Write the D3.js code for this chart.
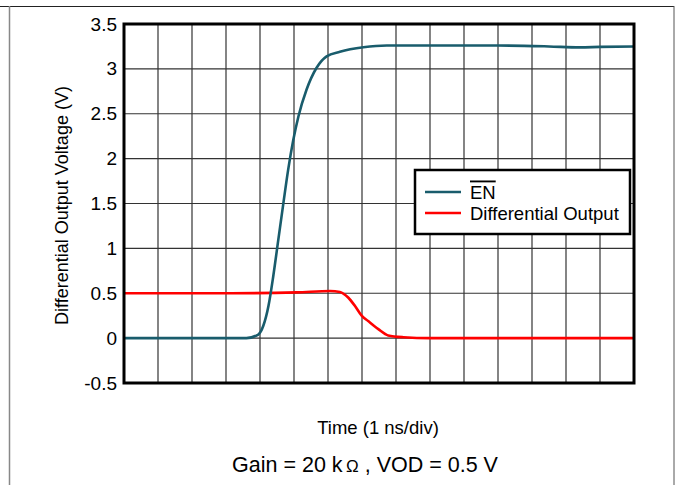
<!DOCTYPE html>
<html>
<head>
<meta charset="utf-8">
<script src="https://cdn.jsdelivr.net/npm/d3@7"></script>
<style>
  body { margin: 0; background: #fff; }
  text { font-family: "Liberation Sans", Arial, sans-serif; fill: #000; }
</style>
</head>
<body>
<svg id="chart" width="676" height="485"></svg>
<script>
// time in divisions (1 ns/div), voltage in V
var enTime = [0, 3.6, 3.95, 4.1, 4.25, 4.39, 4.54, 4.69, 4.83, 4.98, 5.13, 5.37, 5.66, 5.96, 6.35, 7.04, 7.73, 9.0, 11.0, 12.5, 13.4, 14.0, 15.0];
var enVolt = [0, 0, 0.04, 0.14, 0.36, 0.69, 1.10, 1.51, 1.88, 2.21, 2.47, 2.77, 3.01, 3.14, 3.19, 3.24, 3.26, 3.26, 3.26, 3.25, 3.24, 3.245, 3.25];

var diffTime = [0, 3.15, 5.08, 6.06, 6.35, 6.6, 6.79, 6.99, 7.18, 7.48, 7.77, 8.22, 9.0, 11.0, 15.0];
var diffVolt = [0.5, 0.5, 0.51, 0.525, 0.515, 0.45, 0.36, 0.25, 0.19, 0.10, 0.03, 0.01, 0.0, 0.0, 0.0];

var yTicks = [-0.5, 0, 0.5, 1, 1.5, 2, 2.5, 3, 3.5];
var xTicks = d3.range(0, 16);

var seriesNames = ["EN", "Differential Output"];
var seriesColors = ["#195c6c", "#ff0000"];

var svg = d3.select("#chart");
var margin = {top: 24, right: 42, bottom: 102, left: 124};
var width = 676 - margin.left - margin.right,
    height = 485 - margin.top - margin.bottom;

// outer frame
svg.append("line").attr("x1", 0).attr("x2", 674).attr("y1", 6.5).attr("y2", 6.5)
    .attr("stroke", "#222").attr("stroke-width", 1.2);
svg.append("line").attr("x1", 9.5).attr("x2", 9.5).attr("y1", 6).attr("y2", 485)
    .attr("stroke", "#888").attr("stroke-width", 1.5);
svg.append("line").attr("x1", 674).attr("x2", 674).attr("y1", 6).attr("y2", 485)
    .attr("stroke", "#555").attr("stroke-width", 1);

var x = d3.scaleLinear().domain([0, 15]).range([0, width]);
var y = d3.scaleLinear().domain([-0.5, 3.5]).range([height, 0]);

var g = svg.append("g")
    .attr("transform", "translate(" + margin.left + "," + margin.top + ")");

// grid
g.append("g").selectAll("line").data(xTicks.slice(1, -1)).enter().append("line")
    .attr("x1", function(d) { return x(d); }).attr("x2", function(d) { return x(d); })
    .attr("y1", 0).attr("y2", height)
    .attr("stroke", "#333").attr("stroke-width", 1.2);
g.append("g").selectAll("line").data(yTicks.slice(1, -1)).enter().append("line")
    .attr("y1", function(d) { return y(d); }).attr("y2", function(d) { return y(d); })
    .attr("x1", 0).attr("x2", width)
    .attr("stroke", "#333").attr("stroke-width", 1.2);

// y axis labels (plain hyphen for minus, like the original)
var yAxis = d3.axisLeft(y).tickValues(yTicks).tickSize(0).tickPadding(7)
    .tickFormat(function(d) { return String(d); });
g.append("g").call(yAxis)
    .call(function(a) { a.select(".domain").remove(); })
    .selectAll("text")
    .style("font-size", "19px")
    .style("font-family", "Liberation Sans, Arial, sans-serif");

var line = d3.line()
    .curve(d3.curveMonotoneX)
    .x(function(d) { return x(d[0]); })
    .y(function(d) { return y(d[1]); });

var enData = d3.zip(enTime, enVolt);
var diffData = d3.zip(diffTime, diffVolt);

g.append("path").datum(diffData)
    .attr("d", line).attr("fill", "none")
    .attr("stroke", seriesColors[1]).attr("stroke-width", 2.6);
g.append("path").datum(enData)
    .attr("d", line).attr("fill", "none")
    .attr("stroke", seriesColors[0]).attr("stroke-width", 2.6);

// plot border
g.append("rect").attr("x", 0).attr("y", 0).attr("width", width).attr("height", height)
    .attr("fill", "none").attr("stroke", "#000").attr("stroke-width", 3);

// legend
var leg = svg.append("g").attr("transform", "translate(415,170)");
leg.append("rect").attr("width", 215).attr("height", 64)
    .attr("fill", "#fff").attr("stroke", "#000").attr("stroke-width", 2.5);
seriesNames.forEach(function(name, i) {
    var yy = 22 + i * 21;
    leg.append("line").attr("x1", 10).attr("x2", 46).attr("y1", yy).attr("y2", yy)
        .attr("stroke", seriesColors[i]).attr("stroke-width", 2.6);
    var t = leg.append("text").attr("x", 55).attr("y", yy + 6.5)
        .style("font-size", "18.5px").text(name);
    if (i === 0) t.style("text-decoration", "overline");
});

// axis titles
svg.append("text")
    .attr("transform", "translate(68," + (margin.top + height / 2 + 2) + ") rotate(-90)")
    .attr("text-anchor", "middle")
    .style("font-size", "18px")
    .text("Differential Output Voltage (V)");

svg.append("text")
    .attr("x", 378).attr("y", 434)
    .attr("text-anchor", "middle")
    .style("font-size", "18.5px")
    .text("Time (1 ns/div)");

var sub = svg.append("text")
    .attr("x", 365).attr("y", 472)
    .attr("text-anchor", "middle")
    .style("font-size", "21.5px");
sub.append("tspan").text("Gain = 20 k");
sub.append("tspan").style("font-size", "17px").text("\u2009\u03A9");
sub.append("tspan").text(" , VOD = 0.5 V");
</script>
</body>
</html>
